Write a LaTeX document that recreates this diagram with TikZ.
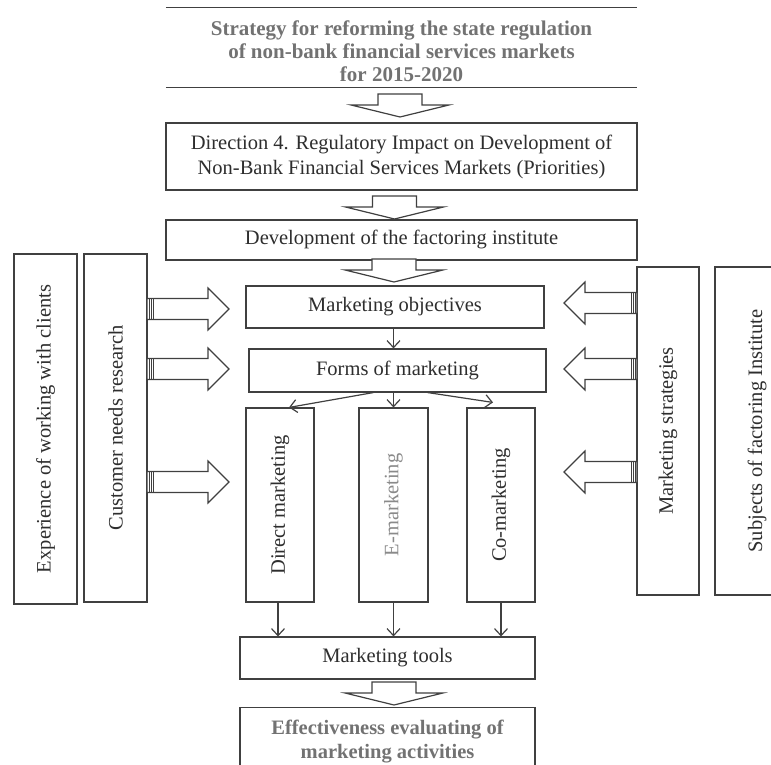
\documentclass[tikz,border=0pt]{standalone}
\usepackage{fontspec}
\setmainfont{Liberation Serif}
\usetikzlibrary{arrows.meta}
\definecolor{lineg}{HTML}{404040}
\definecolor{txtg}{HTML}{2E2E2E}
\definecolor{boldg}{HTML}{727272}
\definecolor{emg}{HTML}{8A8A8A}
\tikzset{
  box/.style={draw=lineg, line width=1.1pt, fill=white, text=txtg, inner sep=0pt, align=center, font=\fontsize{20.5}{25}\selectfont},
  boldtxt/.style={text=boldg, inner sep=0pt, align=center, font=\fontsize{21}{23}\selectfont\bfseries},
  boxline/.style={draw=lineg, line width=1.1pt},
  fat/.style={draw=lineg, line width=1.2pt, fill=white, line join=miter},
  stripe/.style={draw=lineg, line width=0.8pt},
  arr/.style={draw=lineg, line width=1.2pt, -{Straight Barb[length=7pt,width=13pt]}},
  pics/fatdown/.style={code={
    \draw[fat] (-22,0) -- (22,0) -- (22,-11) -- (49,-11) -- (0,-23) -- (-49,-11) -- (-22,-11) -- cycle;
  }},
  pics/sidearr/.style={code={
    \draw[fat] (0,-10.5) -- (#1,-10.5) -- (#1,-21) -- ({#1+21},0) -- (#1,21) -- (#1,10.5) -- (0,10.5) -- cycle;
    \draw[stripe] (2,-10.5) -- (2,10.5) (4,-10.5) -- (4,10.5) (6,-10.5) -- (6,10.5);
  }},
}

\begin{document}
\begin{tikzpicture}[x=1pt, y=1pt]
\useasboundingbox (0,0) rectangle (771,765);

\node[draw=none, minimum width=471pt, minimum height=79pt] (strat) at (401.5,717.5) {};
\draw[boxline] (strat.north west) -- (strat.north east) (strat.south west) -- (strat.south east);
\node[boldtxt] (strattxt) at (401.5,714) {Strategy for reforming the state regulation\\of non-bank financial services markets\\for 2015-2020};

\node[box, minimum width=471pt, minimum height=67pt] (dirfour) at (401.5,608.5) {Direction 4. Regulatory Impact on Development of\\Non-Bank Financial Services Markets (Priorities)};
\node[box, minimum width=471pt, minimum height=40pt] (factor) at (401.5,525) {Development of the factoring institute};
\node[box, minimum width=298pt, minimum height=42pt] (mobj) at (395,458) {Marketing objectives};
\node[box, minimum width=297pt, minimum height=43pt] (forms) at (397.5,394.5) {Forms of marketing};

\node[box, minimum width=68pt, minimum height=194pt] (dm) at (280,260) {\rotatebox{90}{Direct marketing}};
\node[box, minimum width=69pt, minimum height=194pt, text=emg] (em) at (393.5,260) {\rotatebox{90}{E-marketing}};
\node[box, minimum width=68pt, minimum height=194pt] (cm) at (501,260) {\rotatebox{90}{Co-marketing}};

\node[box, minimum width=295pt, minimum height=42pt] (tools) at (387.5,107) {Marketing tools};
\node[box, minimum width=295pt, minimum height=100pt, anchor=north] (eval) at (387.5,58) {};
\node[boldtxt, font=\fontsize{20.5}{24}\selectfont\bfseries, anchor=north] (evaltxt) at (387.5,45) {Effectiveness evaluating of\\marketing activities};

\node[box, minimum width=63pt, minimum height=350pt] (exp) at (45.5,336) {\rotatebox{90}{Experience of working with clients}};
\node[box, minimum width=63pt, minimum height=348pt] (cust) at (115.5,337) {\rotatebox{90}{Customer needs research}};
\node[box, minimum width=62pt, minimum height=328pt] (mstrat) at (668,334) {\rotatebox{90}{Marketing strategies}};
\node[box, minimum width=84pt, minimum height=328pt] (subj) at (757,334) {\rotatebox{90}{Subjects of factoring Institute}};

\pic at (400,671) {fatdown};
\pic at (394.5,569) {fatdown};
\pic at (394,506) {fatdown};
\pic at (394,83) {fatdown};

\pic at (147,456) {sidearr=61};
\pic at (147,396) {sidearr=61};
\pic at (147,283) {sidearr=61};
\pic[xscale=-1] at (637,462) {sidearr=52};
\pic[xscale=-1] at (637,396) {sidearr=52};
\pic[xscale=-1] at (637,293) {sidearr=52};

\draw[arr] (mobj.south -| em.center) -- (forms.north -| em.center);
\draw[arr] ([xshift=-24pt]forms.south) -- ([xshift=9pt]dm.north);
\draw[arr] (forms.south -| em.north) -- (em.north);
\draw[arr] ([xshift=30pt]forms.south) -- ([xshift=-8pt,yshift=5pt]cm.north);
\draw[arr] ([xshift=-2pt]dm.south) -- ([xshift=-2pt]dm.south |- tools.north);
\draw[arr] (em.south) -- (em.south |- tools.north);
\draw[arr] (cm.south) -- (cm.south |- tools.north);
\end{tikzpicture}
\end{document}
